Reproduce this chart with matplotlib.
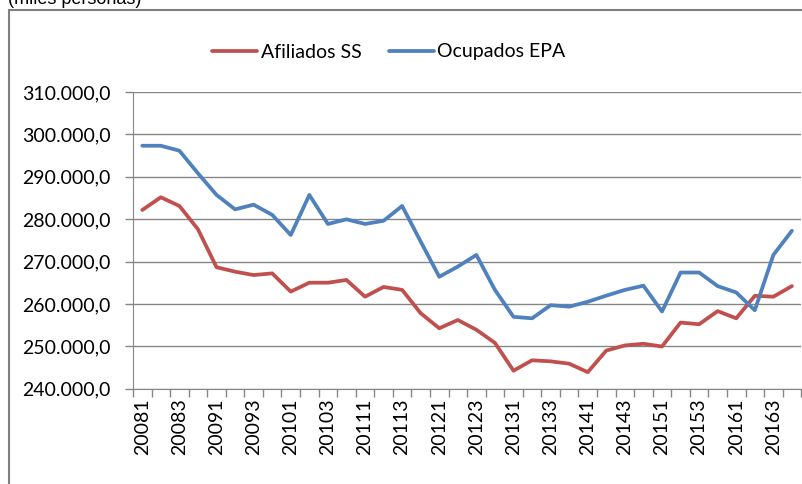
import numpy as np
import matplotlib.pyplot as plt
from matplotlib.patches import Rectangle
from matplotlib.ticker import FuncFormatter

# trimestres 2008T1 .. 2016T4
periodos = [f"{a}{t}" for a in range(2008, 2017) for t in range(1, 5)]

afiliados = [282150, 285150, 283100, 277600, 268650, 267600, 266800, 267200,
             262900, 265000, 265000, 265650, 261700, 264000, 263300, 257800,
             254250, 256200, 253900, 250800, 244250, 246700, 246450, 245900,
             243900, 249000, 250200, 250600, 249950, 255600, 255200, 258300,
             256600, 261900, 261700, 264200]

ocupados = [297300, 297300, 296130, 290800, 285700, 282300, 283400, 281000,
            276250, 285700, 278850, 279950, 278850, 279600, 283100, 274700,
            266400, 268800, 271550, 263300, 256950, 256600, 259700, 259350,
            260500, 261950, 263300, 264300, 258200, 267400, 267400, 264200,
            262700, 258500, 271550, 277250]

ROJO = '#C0504D'
AZUL = '#4F81BD'
GRIS = '#868686'

W, H = 803, 484
fig = plt.figure(figsize=(W/100, H/100), dpi=100)

# marco exterior del grafico (cortado a la derecha y abajo)
fig.patches.append(Rectangle((9/W, -0.05), 1.0, 1 - 10/H + 0.05, transform=fig.transFigure,
                             fill=False, edgecolor='#7f7f7f', lw=1.5))
fig.text(8/W, 1 + 1/H, "(miles personas)", fontsize=13, family='Liberation Sans',
         va='center', ha='left')

x0, x1 = 133, 801.2
y0, y1 = 91.9, 388.7
ax = fig.add_axes([x0/W, 1 - y1/H, (x1 - x0)/W, (y1 - y0)/H])

x = np.arange(len(periodos))
l1, = ax.plot(x, afiliados, color=ROJO, lw=2.7, label='Afiliados SS', solid_capstyle='round')
l2, = ax.plot(x, ocupados, color=AZUL, lw=2.7, label='Ocupados EPA', solid_capstyle='round')

ax.set_xlim(-0.5, len(periodos) - 0.5)
ax.set_ylim(240000, 310000)
ax.set_yticks(np.arange(240000, 310001, 10000))
ax.yaxis.set_major_formatter(FuncFormatter(lambda v, p: f"{v:,.1f}".replace(',', 'X').replace('.', ',').replace('X', '.')))
ax.grid(axis='y', color=GRIS, lw=1)
ax.set_axisbelow(True)

ax.set_xticks(np.arange(-0.5, len(periodos), 1))
ax.set_xticklabels([])
ax.set_xticks(x[::2], minor=True)
ax.set_xticklabels(periodos[::2], minor=True, rotation=90, fontsize=14, family='Lato')
ax.tick_params(axis='x', which='major', length=6, color=GRIS, width=1)
ax.tick_params(axis='x', which='minor', length=0, pad=7)
ax.tick_params(axis='y', length=6, color=GRIS, width=1, labelsize=14, pad=10)
for lab in ax.get_yticklabels():
    lab.set_family('Lato')

for s in ['top', 'right']:
    ax.spines[s].set_visible(False)
for s in ['left', 'bottom']:
    ax.spines[s].set_color(GRIS)

fig.legend(handles=[l1, l2], loc='center', bbox_to_anchor=(389/W, 1 - 52/H), ncol=2,
           frameon=False, prop={'family': 'Lato', 'size': 14}, handlelength=2.3,
           handletextpad=0.2, columnspacing=1.4)

fig.savefig('out.png', dpi=100)
